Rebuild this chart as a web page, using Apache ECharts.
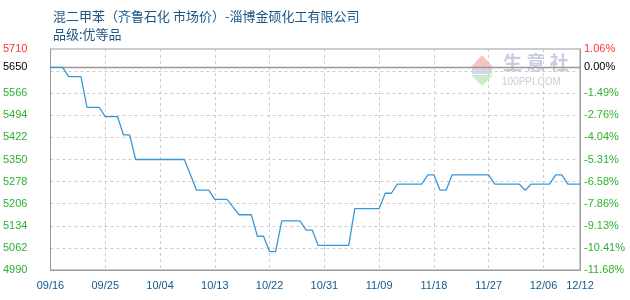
<!DOCTYPE html>
<html>
<head>
<meta charset="utf-8">
<script src="https://cdn.jsdelivr.net/npm/echarts@6/dist/echarts.min.js"></script>
<style>html,body{margin:0;padding:0;background:#fff;}#c{width:630px;height:300px;}</style>
</head>
<body>
<div id="c"></div>
<script>
const dates = [
"09/16","09/17","09/18","09/19","09/20","09/21","09/22","09/23","09/24","09/25","09/26","09/27","09/28","09/29","09/30",
"10/01","10/02","10/03","10/04","10/05","10/06","10/07","10/08","10/09","10/10","10/11","10/12","10/13","10/14","10/15",
"10/16","10/17","10/18","10/19","10/20","10/21","10/22","10/23","10/24","10/25","10/26","10/27","10/28","10/29","10/30","10/31",
"11/01","11/02","11/03","11/04","11/05","11/06","11/07","11/08","11/09","11/10","11/11","11/12","11/13","11/14","11/15",
"11/16","11/17","11/18","11/19","11/20","11/21","11/22","11/23","11/24","11/25","11/26","11/27","11/28","11/29","11/30",
"12/01","12/02","12/03","12/04","12/05","12/06","12/07","12/08","12/09","12/10","12/11","12/12"
];
const prices = [
5650,5650,5650,5620,5620,5620,5520,5520,5520,5490,5490,5490,5430,5430,5350,
5350,5350,5350,5350,5350,5350,5350,5350,5300,5250,5250,5250,5220,5220,5220,
5195,5170,5170,5170,5100,5100,5050,5050,5150,5150,5150,5150,5120,5120,5070,5070,
5070,5070,5070,5070,5190,5190,5190,5190,5190,5240,5240,5270,5270,5270,5270,
5270,5300,5300,5250,5250,5300,5300,5300,5300,5300,5300,5300,5270,5270,5270,
5270,5270,5250,5270,5270,5270,5270,5300,5300,5270,5270,5270
];
const leftTicks = [4990,5062,5134,5206,5278,5350,5422,5494,5566,5650,5710];
const refPrice = 5650;
const yMin = 4990, yMax = 5710, yStep = 72;
const titleLine1 = "混二甲苯（齐鲁石化 市场价）-淄博金硕化工有限公司";
const titleLine2 = "品级:优等品";

const RED = "#ff3333", GREEN = "#2fb02f", BLACK = "#000000";
const labelFont = "Liberation Sans";
function tone(v){ return v > refPrice ? 'r' : (v === refPrice ? 'k' : 'g'); }
const rich = {
  r:{color:RED,fontFamily:labelFont,fontSize:11},
  g:{color:GREEN,fontFamily:labelFont,fontSize:11},
  k:{color:BLACK,fontFamily:labelFont,fontSize:11}
};
const last = dates.length - 1;

const chart = echarts.init(document.getElementById('c'));
chart.setOption({
  animation:false,
  backgroundColor:'#fff',
  title:[
    {text:titleLine1,left:48,top:5,textStyle:{fontSize:13,fontWeight:'normal',color:'#1b5687',fontFamily:'Noto Sans CJK SC'}},
    {text:titleLine2,left:48,top:23,textStyle:{fontSize:13,fontWeight:'normal',color:'#1b5687',fontFamily:'Noto Sans CJK SC'}}
  ],
  graphic:[
    {type:'polygon',shape:{points:[[482,55],[471,67],[493,67]]},style:{fill:'#f6c4c4'},silent:true},
    {type:'rect',shape:{x:472,y:68,width:20,height:6},style:{fill:'#d6dae6'},silent:true},
    {type:'polygon',shape:{points:[[471,75],[493,75],[482,86]]},style:{fill:'#c9ecc9'},silent:true},
    {type:'text',left:503,top:53,style:{text:'生 意 社',fill:'#c9cde2',fontSize:19,fontWeight:'bold',fontFamily:'Noto Sans CJK SC'}},
    {type:'text',left:502,top:77,style:{text:'100PPI.COM',fill:'#cccccc',fontSize:10,fontFamily:labelFont}}
  ],
  grid:{left:50,right:50,top:49,bottom:30,show:true,borderColor:'#999',borderWidth:1,backgroundColor:'transparent'},
  xAxis:{
    type:'category',data:dates,boundaryGap:false,
    axisLine:{show:true,lineStyle:{color:'#999'}},
    axisTick:{show:false},
    axisLabel:{
      interval:function(i){return i%9===0 || i===last;},
      color:'#125a8c',fontSize:11,fontFamily:labelFont,margin:10,hideOverlap:false
    },
    splitLine:{show:true,interval:function(i){return i%9===0 && i!==0;},lineStyle:{color:'#cccccc',type:[3,3]}}
  },
  yAxis:[
    {
      type:'value',min:yMin,max:yMax,interval:yStep,position:'left',
      axisLine:{show:true,lineStyle:{color:'#999'}},
      axisTick:{show:false},
      splitLine:{show:true,lineStyle:{color:'#cccccc',type:[3,3]}},
      axisLabel:{
        customValues:leftTicks,margin:23,
        formatter:function(v){return '{'+tone(v)+'|'+v+'}';},
        rich:rich
      }
    },
    {
      type:'value',min:yMin,max:yMax,interval:yStep,position:'right',
      axisLine:{show:true,lineStyle:{color:'#999'}},
      axisTick:{show:false},
      splitLine:{show:false},
      axisLabel:{
        customValues:leftTicks,margin:4,
        formatter:function(v){
          const p=((v-refPrice)/refPrice*100).toFixed(2);
          return '{'+tone(v)+'|'+(p==='-0.00'?'0.00':p)+'%}';
        },
        rich:rich
      }
    }
  ],
  series:[{
    type:'line',data:prices,yAxisIndex:0,symbol:'none',
    lineStyle:{color:'#3a98d8',width:1.3},
    z:5,
    markLine:{
      silent:true,symbol:['none','none'],label:{show:false},
      lineStyle:{color:'#999',type:'solid',width:1.3},
      data:[{yAxis:refPrice}],
      z:3
    }
  }]
});
</script>
</body>
</html>
